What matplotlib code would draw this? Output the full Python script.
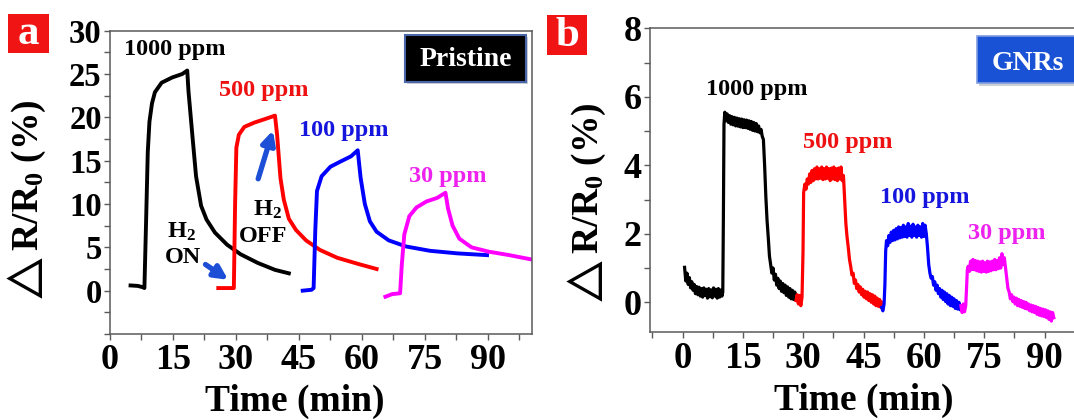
import matplotlib
matplotlib.use("Agg")
import matplotlib.pyplot as plt
from matplotlib.patches import Rectangle
from matplotlib.ticker import MultipleLocator

plt.rcParams['font.family'] = ['Liberation Serif', 'DejaVu Serif']
plt.rcParams['font.weight'] = 'bold'
plt.rcParams['mathtext.fontset'] = 'custom'
plt.rcParams['mathtext.rm'] = 'Liberation Serif:bold'
plt.rcParams['mathtext.bf'] = 'Liberation Serif:bold'
plt.rcParams['mathtext.it'] = 'Liberation Serif:italic:bold'

# ---- panel a : pristine sensor ----
a_1000_t = [4.9, 6.6, 7.8, 8.2, 8.6, 9.0, 9.4, 10.0, 10.7, 12.3, 14.8, 17.2, 18.4,
            18.7, 19.7, 20.5, 21.7, 23.0, 25.0, 27.9, 31.1, 35.2, 39.3, 42.6]
a_1000_v = [0.6, 0.55, 0.4, 0.3, 8.0, 16.0, 19.5, 21.6, 22.9, 24.0, 24.6, 25.0, 25.4,
            23.0, 17.5, 13.2, 9.8, 8.2, 6.7, 5.3, 4.2, 3.2, 2.4, 2.0]

a_500_t = [25.8, 29.5, 29.8, 30.1, 30.7, 32.0, 34.4, 36.9, 39.3, 39.8, 40.6, 41.4,
           42.6, 44.3, 46.7, 50.0, 54.1, 59.0, 63.5]
a_500_v = [0.3, 0.3, 10.0, 16.5, 18.0, 18.9, 19.4, 19.8, 20.2, 18.0, 13.0, 10.5,
           8.3, 7.0, 5.8, 4.7, 3.8, 3.1, 2.5]

a_100_t = [45.9, 48.0, 48.5, 48.9, 49.3, 50.4, 52.5, 54.9, 57.4, 59.0, 59.7, 60.7,
           61.9, 63.5, 66.4, 70.5, 76.2, 82.8, 89.8]
a_100_v = [0.0, 0.1, 0.3, 7.0, 11.5, 13.2, 14.3, 14.9, 15.5, 16.2, 13.0, 10.0,
           8.0, 6.8, 5.8, 5.1, 4.6, 4.3, 4.1]

a_30_t = [65.6, 67.2, 69.1, 69.5, 70.1, 71.3, 73.0, 75.4, 77.9, 79.9, 80.5, 81.6,
          83.2, 86.1, 90.2, 95.1, 100.4]
a_30_v = [-0.7, -0.4, -0.3, 3.0, 6.5, 8.6, 9.6, 10.3, 10.7, 11.3, 9.5, 7.5,
          6.0, 5.0, 4.5, 4.1, 3.6]

# ---- panel b : GNRs sensor ----
b_1000_t = [0.5, 0.8, 1.1, 1.4, 1.7, 2.0, 2.3, 2.6, 2.9, 3.2, 3.5, 3.8, 4.1, 4.4,
            4.7, 5.0, 5.3, 5.6, 5.9, 6.2, 6.5, 6.8, 7.1, 7.4, 7.7, 8.0, 8.3, 8.6,
            8.9, 9.2, 9.5, 9.8, 10.0, 10.15, 10.3, 10.5, 10.8, 11.1, 11.4, 11.7,
            12.0, 12.3, 12.6, 12.9, 13.2, 13.5, 13.8, 14.1, 14.4, 14.7, 15.0, 15.3,
            15.6, 15.9, 16.2, 16.5, 16.8, 17.1, 17.4, 17.7, 18.0, 18.3, 18.6, 18.9,
            19.2, 19.5, 19.8, 20.1, 20.4, 20.7, 21.0, 21.3, 21.6, 21.9, 22.2, 22.5,
            22.8, 23.1, 23.4, 23.7, 24.0, 24.3, 24.6, 24.9, 25.2, 25.5, 25.8, 26.1,
            26.4, 26.7, 27.0, 27.3, 27.6, 27.9, 28.2]
b_1000_v = [1.02, 0.62, 0.85, 0.52, 0.72, 0.42, 0.6, 0.35, 0.52, 0.25, 0.46, 0.22,
            0.44, 0.18, 0.4, 0.15, 0.42, 0.2, 0.38, 0.12, 0.4, 0.16, 0.36, 0.13,
            0.42, 0.18, 0.38, 0.12, 0.4, 0.15, 0.36, 0.18, 0.3, 2.5, 5.2, 5.55,
            5.3, 5.5, 5.25, 5.45, 5.2, 5.42, 5.18, 5.4, 5.15, 5.38, 5.14, 5.36,
            5.12, 5.35, 5.1, 5.33, 5.1, 5.32, 5.08, 5.3, 5.05, 5.28, 5.02, 5.25,
            5.0, 5.22, 4.98, 5.15, 4.95, 5.05, 4.85, 4.75, 4.0, 3.1, 2.4, 1.9,
            1.35, 1.1, 0.85, 1.0, 0.65, 0.82, 0.5, 0.7, 0.4, 0.62, 0.32, 0.55,
            0.28, 0.5, 0.2, 0.45, 0.15, 0.4, 0.1, 0.35, 0.08, 0.3, 0.1]

b_500_t = [28.2, 28.5, 28.8, 29.1, 29.4, 29.7, 29.95, 30.1, 30.4, 30.7, 31.0, 31.3,
           31.6, 31.9, 32.2, 32.5, 32.8, 33.1, 33.4, 33.7, 34.0, 34.3, 34.6, 34.9,
           35.2, 35.5, 35.8, 36.1, 36.4, 36.7, 37.0, 37.3, 37.6, 37.9, 38.2, 38.5,
           38.8, 39.1, 39.4, 39.7, 40.0, 40.3, 40.6, 40.9, 41.2, 41.5, 41.8, 42.1,
           42.4, 42.7, 43.0, 43.3, 43.6, 43.9, 44.2, 44.5, 44.8, 45.1, 45.4, 45.7,
           46.0, 46.3, 46.6, 46.9, 47.2, 47.5, 47.8, 48.1, 48.4, 48.7, 49.0, 49.3,
           49.5]
b_500_v = [0.05, 0.22, -0.05, 0.2, -0.1, 0.15, 1.5, 3.2, 3.45, 3.3, 3.6, 3.45,
           3.75, 3.5, 3.85, 3.55, 3.9, 3.6, 3.95, 3.6, 3.9, 3.62, 3.95, 3.58,
           3.9, 3.6, 3.95, 3.62, 3.9, 3.55, 3.92, 3.6, 3.95, 3.58, 3.9, 3.55,
           3.92, 3.6, 3.95, 3.55, 3.7, 3.0, 2.3, 1.9, 1.6, 1.25, 1.05, 0.8,
           0.85, 0.55, 0.65, 0.4, 0.52, 0.3, 0.45, 0.22, 0.38, 0.15, 0.32, 0.1,
           0.3, 0.05, 0.25, 0.0, 0.22, -0.05, 0.18, -0.1, 0.12, -0.12, 0.08, -0.15,
           0.0]

b_100_t = [49.5, 49.8, 50.1, 50.3, 50.5, 50.7, 51.0, 51.3, 51.6, 51.9, 52.2, 52.5,
           52.8, 53.1, 53.4, 53.7, 54.0, 54.3, 54.6, 54.9, 55.2, 55.5, 55.8, 56.1,
           56.4, 56.7, 57.0, 57.3, 57.6, 57.9, 58.2, 58.5, 58.8, 59.1, 59.4, 59.7,
           60.0, 60.3, 60.6, 60.9, 61.2, 61.5, 61.8, 62.1, 62.4, 62.7, 63.0, 63.3,
           63.6, 63.9, 64.2, 64.5, 64.8, 65.1, 65.4, 65.7, 66.0, 66.3, 66.6, 66.9,
           67.2, 67.5, 67.8, 68.1, 68.4, 68.7, 69.0, 69.2]
b_100_v = [-0.15, -0.25, -0.05, 0.5, 1.5, 1.8, 1.65, 1.95, 1.75, 2.05, 1.8, 2.1,
           1.82, 2.15, 1.85, 2.2, 1.88, 2.18, 1.9, 2.25, 1.92, 2.2, 1.9, 2.3,
           1.95, 2.22, 1.9, 2.28, 1.95, 2.2, 1.9, 2.25, 1.95, 2.2, 1.9, 2.3,
           1.92, 2.25, 2.0, 1.6, 1.1, 0.85, 0.7, 0.75, 0.5, 0.6, 0.35, 0.5,
           0.25, 0.4, 0.15, 0.35, 0.08, 0.3, 0.02, 0.25, -0.05, 0.2, -0.1, 0.15,
           -0.12, 0.1, -0.18, 0.05, -0.2, 0.0, -0.22, -0.1]

b_30_t = [69.2, 69.5, 69.8, 70.1, 70.4, 70.6, 70.8, 71.0, 71.3, 71.6, 71.9, 72.2,
          72.5, 72.8, 73.1, 73.4, 73.7, 74.0, 74.3, 74.6, 74.9, 75.2, 75.5, 75.8,
          76.1, 76.4, 76.7, 77.0, 77.3, 77.6, 77.9, 78.2, 78.5, 78.8, 79.1, 79.4,
          79.7, 80.0, 80.3, 80.6, 80.9, 81.2, 81.5, 81.8, 82.1, 82.4, 82.7, 83.0,
          83.3, 83.6, 83.9, 84.2, 84.5, 84.8, 85.1, 85.4, 85.7, 86.0, 86.3, 86.6,
          86.9, 87.2, 87.5, 87.8, 88.1, 88.4, 88.7, 89.0, 89.3, 89.6, 89.9, 90.2,
          90.5, 90.8, 91.1, 91.4, 91.7, 92.0, 92.3]
b_30_v = [-0.1, -0.3, -0.05, -0.28, -0.1, 0.4, 0.95, 1.05, 0.9, 1.2, 0.95, 1.25,
          0.95, 1.22, 0.92, 1.2, 0.9, 1.18, 0.88, 1.2, 0.9, 1.15, 0.88, 1.2,
          0.9, 1.18, 0.92, 1.2, 0.95, 1.25, 0.95, 1.22, 0.98, 1.3, 1.0, 1.42,
          1.1, 1.3, 1.0, 0.7, 0.4, 0.3, 0.1, 0.22, 0.02, 0.15, -0.05, 0.12,
          -0.1, 0.08, -0.12, 0.05, -0.15, 0.02, -0.18, 0.0, -0.2, -0.05, -0.25, -0.08,
          -0.28, -0.1, -0.3, -0.12, -0.35, -0.15, -0.38, -0.18, -0.4, -0.2, -0.42, -0.22,
          -0.45, -0.25, -0.5, -0.28, -0.55, -0.3, -0.45]

conc_labels = ['1000 ppm', '500 ppm', '100 ppm', '30 ppm']
colors = ['#000000', '#ff0000', '#0000ff', '#ff00ff']
label_colors = ['#000000', '#ee1111', '#1515dd', '#ee22ee']
a_label_pos = [(15.4, 27.8), (36.6, 23.1), (55.6, 18.5), (80.4, 13.2)]
b_label_pos = [(18.5, 6.2), (41.0, 4.68), (60.2, 3.05), (80.6, 2.02)]

ylab = r'$\triangle$R/R$_0$ (%)'
spine_col = '#5a5a5a'
arrow_col = '#1c4fd6'


def style_axes(ax, xlab_xy, ylab_xy, ysize, xsize):
    for s in ax.spines.values():
        s.set_color(spine_col)
        s.set_linewidth(1.1)
    ax.tick_params(which='both', direction='out', length=4, width=1, color=spine_col,
                   right=False, top=False)
    ax.tick_params(axis='y', labelsize=ysize, pad=2)
    ax.tick_params(axis='x', labelsize=xsize, pad=3)
    ax.set_xticks([0, 15, 30, 45, 60, 75, 90])
    ax.xaxis.set_minor_locator(MultipleLocator(7.5))
    ax.set_xlabel('Time (min)', fontsize=27, fontweight='bold')
    ax.xaxis.set_label_coords(*xlab_xy)
    ax.xaxis.label.set_va('center')
    ax.set_ylabel(ylab, fontsize=27, fontweight='bold')
    ax.yaxis.set_label_coords(*ylab_xy)
    ax.yaxis.label.set_va('center')


fig = plt.figure(figsize=(10.74, 4.2), dpi=100)
ax1 = fig.add_axes([0.1024, 0.2048, 0.3929, 0.7221])
ax2 = fig.add_axes([0.6052, 0.2102, 0.3966, 0.7224])

# panel a
a_series = [(a_1000_t, a_1000_v), (a_500_t, a_500_v), (a_100_t, a_100_v), (a_30_t, a_30_v)]
for (t, v), c in zip(a_series, colors):
    ax1.plot(t, v, color=c, lw=2.8, solid_joinstyle='round')
for lab, (x, y), c in zip(conc_labels, a_label_pos, label_colors):
    ax1.text(x, y, lab, color=c, fontsize=17.5, ha='center', va='center')
ax1.set_xlim(0, 100.5)
ax1.set_ylim(-5, 30)
ax1.set_yticks([0, 5, 10, 15, 20, 25, 30])
ax1.yaxis.set_minor_locator(MultipleLocator(2.5))
style_axes(ax1, (0.439, -0.223), (-0.197, 0.436), 23.5, 26)

ax1.text(16.9, 6.8, r'H$_2$', fontsize=17.5, ha='center', va='center')
ax1.text(17.4, 3.8, 'ON', fontsize=17.5, ha='center', va='center')
ax1.text(37.6, 9.3, r'H$_2$', fontsize=17.5, ha='center', va='center')
ax1.text(36.5, 6.2, 'OFF', fontsize=17.5, ha='center', va='center')
ax1.annotate('', xy=(28.7, 1.07), xytext=(22.2, 3.2),
             arrowprops=dict(arrowstyle='-|>', color=arrow_col, lw=3.8, mutation_scale=20))
ax1.annotate('', xy=(39.0, 18.8), xytext=(35.1, 12.6),
             arrowprops=dict(arrowstyle='-|>', color=arrow_col, lw=3.8, mutation_scale=20))

ax1.add_patch(Rectangle((0.703, 0.824), 0.288, 0.155, transform=ax1.transAxes,
                        facecolor='#9aa0aa', edgecolor='none', alpha=0.5, zorder=4))
ax1.add_patch(Rectangle((0.698, 0.832), 0.288, 0.154, transform=ax1.transAxes,
                        facecolor='black', edgecolor='#4a66a8', lw=1.5, zorder=5))
ax1.text(0.843, 0.905, 'Pristine', transform=ax1.transAxes, color='white',
         fontsize=20, ha='center', va='center', zorder=6)

# panel b
b_series = [(b_1000_t, b_1000_v), (b_500_t, b_500_v), (b_100_t, b_100_v), (b_30_t, b_30_v)]
for (t, v), c in zip(b_series, colors):
    ax2.plot(t, v, color=c, lw=2.3)
for lab, (x, y), c in zip(conc_labels, b_label_pos, label_colors):
    ax2.text(x, y, lab, color=c, fontsize=17.5, ha='center', va='center')
ax2.set_xlim(-8.1, 97.8)
ax2.set_ylim(-0.86, 8.0)
ax2.set_yticks([0, 2, 4, 6, 8])
ax2.yaxis.set_minor_locator(MultipleLocator(1))
style_axes(ax2, (0.503, -0.225), (-0.147, 0.418), 26, 26.5)

ax2.add_patch(Rectangle((0.772, 0.811), 0.3, 0.156, transform=ax2.transAxes,
                        facecolor='#9aa0aa', edgecolor='none', alpha=0.5, zorder=4,
                        clip_on=False))
ax2.add_patch(Rectangle((0.767, 0.819), 0.3, 0.156, transform=ax2.transAxes,
                        facecolor='#1a52d6', edgecolor='#7f9be0', lw=1.2, zorder=5,
                        clip_on=False))
ax2.text(0.886, 0.885, 'GNRs', transform=ax2.transAxes, color='white',
         fontsize=20, ha='center', va='center', zorder=6)

# panel letters
for (x0, y0, w, h), (cx, cy), letter in [((0.0077, 0.873, 0.0382, 0.0936), (0.0268, 0.918), 'a'),
                                         ((0.5096, 0.869, 0.0367, 0.0952), (0.528, 0.915), 'b')]:
    fig.patches.append(Rectangle((x0, y0), w, h, transform=fig.transFigure,
                                 facecolor='#f01414', edgecolor='none'))
    fig.text(cx, cy, letter, color='white', fontsize=31, ha='center', va='center')

fig.savefig('out.png', dpi=100)
